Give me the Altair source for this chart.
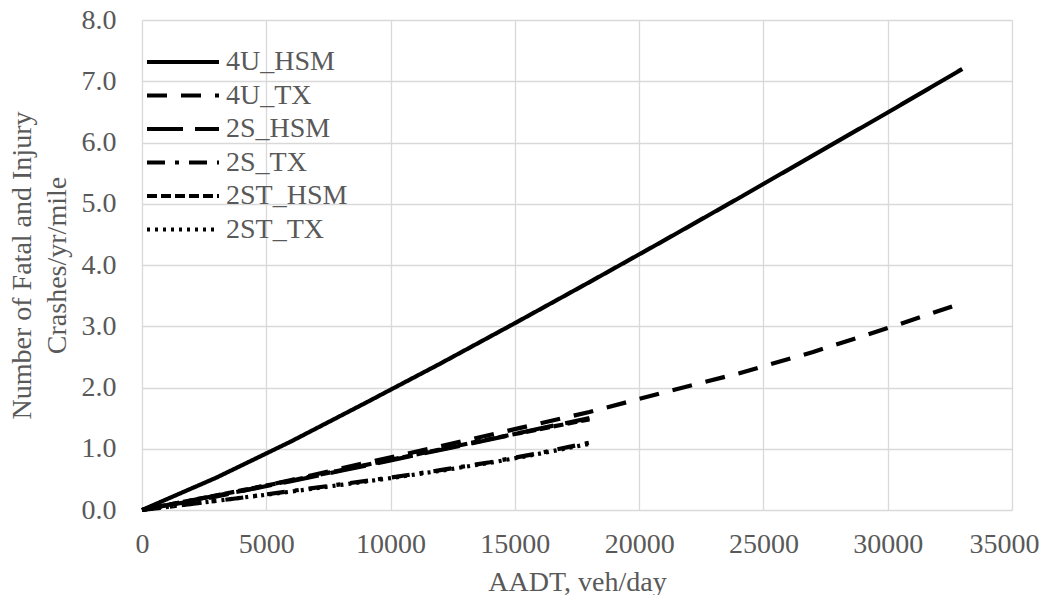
import altair as alt
import pandas as pd

SERIES = ["4U_HSM", "4U_TX", "2S_HSM", "2S_TX", "2ST_HSM", "2ST_TX"]
DASHES = [[1, 0], [20, 14], [36, 12], [18, 10, 4, 10], [10, 4], [3, 5]]

AADT_LONG = [0, 3000, 6000, 9000, 12000, 15000, 18000, 21000, 24000, 27000, 30000, 33000]
HSM_4U = [0, 0.53, 1.12, 1.75, 2.39, 3.05, 3.72, 4.40, 5.09, 5.79, 6.49, 7.20]
TX_4U = [0, 0.22, 0.49, 0.77, 1.04, 1.32, 1.60, 1.92, 2.23, 2.58, 2.97, 3.38]

AADT_SHORT = [0, 1000, 2000, 4000, 6000, 8000, 10000, 12000, 14000, 16000, 18000]
HSM_2S = [0, 0.08, 0.16, 0.31, 0.47, 0.64, 0.81, 0.98, 1.15, 1.33, 1.50]
TX_2S = [0, 0.05, 0.10, 0.20, 0.31, 0.42, 0.53, 0.65, 0.78, 0.93, 1.10]
HSM_2ST = [0, 0.08, 0.16, 0.32, 0.48, 0.65, 0.82, 0.99, 1.16, 1.32, 1.48]
TX_2ST = [0, 0.05, 0.10, 0.20, 0.30, 0.41, 0.52, 0.64, 0.77, 0.92, 1.08]

rows = []
for name, xs, ys in [
    ("4U_HSM", AADT_LONG, HSM_4U),
    ("4U_TX", AADT_LONG, TX_4U),
    ("2S_HSM", AADT_SHORT, HSM_2S),
    ("2S_TX", AADT_SHORT, TX_2S),
    ("2ST_HSM", AADT_SHORT, HSM_2ST),
    ("2ST_TX", AADT_SHORT, TX_2ST),
]:
    for i, (x, y) in enumerate(zip(xs, ys)):
        rows.append({"series": name, "aadt": x, "crashes": y, "order": i})
df = pd.DataFrame(rows)

FONT = "Liberation Serif"
GRAY = "#595959"

chart = alt.Chart(df).mark_line(color="black", strokeWidth=4.2, strokeCap="butt").encode(
    x=alt.X("aadt:Q", title="AADT, veh/day",
            scale=alt.Scale(domain=[0, 35000], nice=False),
            axis=alt.Axis(values=list(range(0, 35001, 5000)), format="d",
                          labelPadding=20, titlePadding=10, labelFlush=False,
                          labelOffset={"condition": {"test": "datum.value === 35000", "value": -8},
                                       "value": 0})),
    y=alt.Y("crashes:Q", title=["Number of Fatal and Injury", "Crashes/yr/mile"],
            scale=alt.Scale(domain=[0, 8], nice=False),
            axis=alt.Axis(values=[0, 1, 2, 3, 4, 5, 6, 7, 8], format=".1f",
                          labelPadding=26, titlePadding=10, titleLineHeight=35,
                          labelFlush=False)),
    strokeDash=alt.StrokeDash("series:N", sort=SERIES,
                              scale=alt.Scale(domain=SERIES, range=DASHES),
                              legend=alt.Legend(title=None, orient="none",
                                                legendX=27, legendY=28,
                                                symbolType="M-3,0H3", symbolSize=576,
                                                symbolStrokeWidth=4, symbolStrokeColor="black",
                                                labelOffset=29, rowPadding=5.5, padding=0)),
    order="order:Q",
    detail="series:N",
).properties(
    width=870, height=490,
    autosize=alt.AutoSizeParams(type="none"),
    padding={"left": 134, "top": 12, "right": 28, "bottom": 85},
).configure_view(stroke=None).configure_axis(
    grid=True, gridColor="#d9d9d9", gridWidth=1.3, domain=False, ticks=False,
    labelFont=FONT, labelFontSize=28, labelColor=GRAY,
    titleFont=FONT, titleFontSize=28, titleColor=GRAY, titleFontWeight="normal",
).configure_legend(
    labelFont=FONT, labelFontSize=28, labelColor=GRAY,
)

chart.save("out.html", embed_options={"renderer": "svg", "actions": False})
